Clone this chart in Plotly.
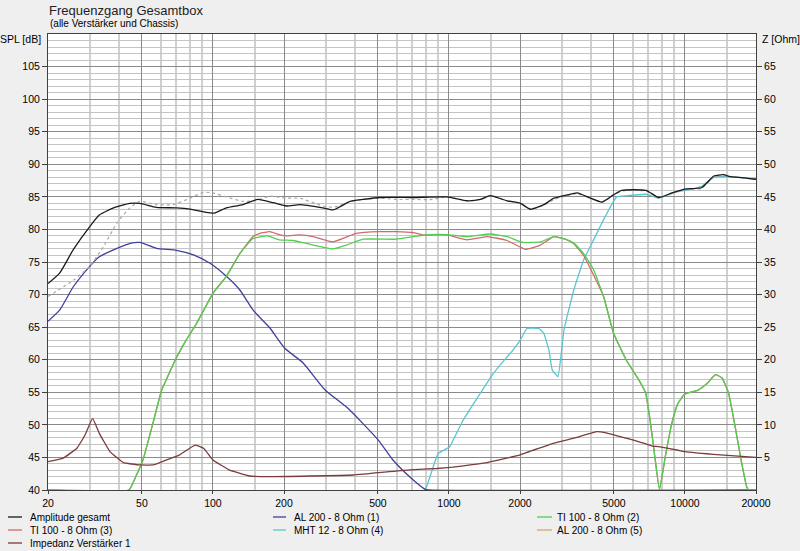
import plotly.graph_objects as go

# ---------------- data ----------------
amp_f = [20, 22.4, 25.6, 30, 33, 37.9, 44.4, 49, 57.6, 70, 80, 91.3, 101, 114, 134, 155, 180, 205, 233,
         292, 323, 346, 381, 433, 508, 706, 980, 1192, 1358, 1497, 1763, 2010, 2215, 2523, 2785, 3168,
         3494, 3975, 4450, 4980, 5390, 6830, 7750, 8790, 9960, 11750, 13250, 14580, 15540, 17000, 20000]
amp_v = [71.7, 73.3, 76.9, 80.4, 82.2, 83.3, 84.0, 84.0, 83.4, 83.3, 83.1, 82.7, 82.5, 83.3, 83.8, 84.6, 84.1, 83.6, 83.8,
         83.3, 83.0, 83.5, 84.3, 84.6, 84.9, 84.9, 85.0, 84.4, 84.6, 85.2, 84.4, 84.0, 83.1, 83.8, 84.8, 85.3,
         85.6, 84.8, 84.2, 85.3, 86.0, 86.0, 84.9, 85.6, 86.2, 86.4, 88.2, 88.4, 88.1, 88.0, 87.7]

ref_f = [20, 25.6, 30, 34.4, 39.2, 44.4, 49, 57.6, 67.8, 80, 91.3, 100, 114, 134, 150, 174, 205, 233,
         292, 323, 346, 381, 433, 508, 600, 706, 850, 980, 1192, 1358, 1497, 1763, 2010, 2215, 2523, 2785,
         3168, 3494, 3975, 4450, 4980, 5390, 6830, 7750, 8790, 9960, 11750, 13250, 14580, 20000]
ref_v = [69.7, 72.2, 74.3, 77.4, 81.0, 83.3, 84.3, 83.8, 83.8, 84.8, 85.7, 85.6, 85.0, 84.3, 84.4, 85.1, 84.8, 84.8,
         83.6, 83.4, 83.7, 84.3, 84.6, 84.8, 84.6, 84.6, 84.6, 85.0, 84.4, 84.6, 85.1, 84.4, 84.0, 83.1, 83.7, 84.6,
         85.2, 85.5, 84.8, 84.2, 85.2, 85.9, 85.9, 84.9, 85.5, 86.1, 86.3, 88.0, 88.2, 87.7]

al1_f = [20, 22.4, 25.6, 30, 33, 39.2, 45, 49, 57.6, 70, 82.7, 97.2, 114, 130, 148, 174, 201, 241, 298,
         374, 501, 579, 683, 794, 820, 20000]
al1_v = [65.9, 67.6, 71.2, 74.3, 75.8, 77.1, 77.9, 78.0, 77.1, 76.8, 76.1, 74.8, 72.8, 70.7, 67.6, 64.9, 61.8, 59.5, 55.4,
         52.5, 47.7, 44.6, 42.0, 40.1, 40.0, 40.0]

ti2_f = [20, 44, 47, 50.5, 55.9, 60.6, 65, 70, 77, 85, 100, 114, 130, 148, 170, 191, 219, 266, 323, 368,
         433, 600, 706, 830, 980, 1192, 1497, 1763, 2060, 2440, 2785, 3168, 3380, 3720, 4100, 4520, 4980,
         5630, 6400, 6800, 7100, 7400, 7800, 8250, 8790, 9340, 9960, 11300, 12440, 13470, 14360, 15300,
         16320, 17400, 18270, 18600, 20000]
ti2_v = [40, 40, 42, 44.6, 50.5, 55.3, 57.8, 60.3, 63.0, 65.5, 70.2, 72.8, 76.3, 78.6, 79.0, 78.4, 78.3, 77.6, 77.0, 77.6,
         78.5, 78.5, 78.9, 79.2, 79.2, 78.9, 79.3, 78.9, 78.0, 78.1, 78.9, 78.4, 77.9, 76.3, 73.8, 69.7, 64.1,
         60.0, 56.8, 55.0, 51.0, 46.0, 40.1, 45.1, 50.2, 53.3, 54.7, 55.3, 56.4, 57.7, 57.2, 54.9,
         49.7, 44.1, 40.5, 40, 40]

ti3_f = [20, 44, 47, 50.5, 55.9, 60.6, 65, 70, 77, 85, 100, 114, 130, 148, 158, 174, 191, 205, 233, 266,
         323, 405, 508, 597, 706, 778, 980, 1192, 1450, 1763, 2110, 2440, 2785, 3168, 3380, 3720, 3975,
         4520, 4980, 5630, 6400, 6800, 7100, 7400, 7800, 8250, 8790, 9340, 9960, 11300, 12440, 13470,
         14360, 15300, 16320, 17400, 18270, 18600, 20000]
ti3_v = [40, 40, 42, 44.6, 50.5, 55.3, 57.8, 60.3, 63.0, 65.5, 70.2, 72.8, 76.3, 78.9, 79.4, 79.65, 79.2, 79.0, 79.15, 78.9,
         78.1, 79.4, 79.65, 79.65, 79.5, 79.15, 79.15, 78.4, 78.9, 78.3, 76.95, 77.6, 78.9, 78.4, 77.8, 76.0, 74.0,
         69.7, 64.1, 60.0, 56.8, 55.0, 51.0, 46.0, 40.1, 45.1, 50.2, 53.3, 54.7, 55.3, 56.4, 57.7,
         57.2, 54.9, 49.7, 44.1, 40.5, 40, 40]

mht_f = [20, 790, 830, 900, 1004, 1149, 1233, 1358, 1542, 1670, 1871, 2004, 2140, 2400, 2523, 2650, 2740,
         2897, 3073, 3380, 3720, 4100, 4595, 5130, 5630, 6830, 7750, 9080, 10650, 11750, 13250, 15540, 20000]
mht_v = [40, 40, 42.0, 45.6, 46.6, 50.75, 52.5, 54.85, 57.9, 59.45, 61.5, 63.0, 64.8, 64.8, 64.05, 61.5, 58.4,
         57.4, 64.6, 70.7, 75.3, 78.4, 82.0, 85.0, 85.15, 85.4, 84.8, 85.7, 86.2, 86.6, 88.0, 88.1, 87.7]

imp_f = [20, 23.2, 26.5, 28.7, 30.9, 33, 36.6, 41.7, 49, 55.9, 63.3, 72.3, 84, 91.3, 100, 117, 143, 174,
         392, 683, 889, 1038, 1233, 1450, 2004, 2785, 3380, 4240, 4595, 5630, 6400, 7260, 7730, 9340, 9960,
         14130, 20000]
imp_z = [4.35, 4.9, 6.4, 8.45, 11.0, 8.7, 5.9, 4.2, 3.85, 3.85, 4.6, 5.4, 6.9, 6.4, 4.6, 3.1, 2.15, 2.05,
         2.3, 3.1, 3.3, 3.5, 3.85, 4.2, 5.4, 7.2, 7.95, 8.95, 8.8, 7.95, 7.4, 6.75, 6.65, 6.1, 5.9,
         5.4, 5.0]

x_ticks = [20, 50, 100, 200, 500, 1000, 2000, 5000, 10000, 20000]
x_minor = [30, 40, 60, 70, 80, 90, 150, 300, 400, 600, 700, 800, 900, 1500,
           3000, 4000, 6000, 7000, 8000, 9000, 15000]
spl_ticks = [40, 45, 50, 55, 60, 65, 70, 75, 80, 85, 90, 95, 100, 105]
z_ticks = [5, 10, 15, 20, 25, 30, 35, 40, 45, 50, 55, 60, 65]

legend_names = ["Amplitude gesamt", "AL 200 - 8 Ohm (1)", "TI 100 - 8 Ohm (2)",
                "TI 100 - 8 Ohm (3)", "MHT 12 - 8 Ohm (4)", "AL 200 - 8 Ohm (5)",
                "Impedanz Verstärker 1"]

# ---------------- styling ----------------
C_AMP = "#1a1a1a"
C_REF = "#a8a8a8"
C_AL1 = "#40409a"
C_TI2 = "#4fd04f"
C_TI3 = "#d06a6a"
C_MHT = "#58c6d2"
C_AL5 = "#d8a66e"
C_IMP = "#7a3c3c"
legend_colors = [C_AMP, C_AL1, C_TI2, C_TI3, C_MHT, C_AL5, C_IMP]

FONT = "Liberation Sans, Arial, sans-serif"
L, R, T, B = 48, 44, 34, 61
W, H = 800, 551
PW, PH = W - L - R, H - T - B

fig = go.Figure()

def add(xs, ys, color, name, width=1.3, dash=None, yaxis="y", smooth=0.5):
    fig.add_trace(go.Scatter(x=xs, y=ys, mode="lines", name=name, yaxis=yaxis,
                             line=dict(color=color, width=width, dash=dash,
                                       shape="spline", smoothing=smooth),
                             showlegend=False, hoverinfo="x+y+name"))

add(imp_f, imp_z, C_IMP, legend_names[6], yaxis="y2", smooth=0.3)
add(mht_f, mht_v, C_MHT, legend_names[4], smooth=0.3)
add(al1_f, al1_v, C_AL1, legend_names[1])
add(ti3_f, ti3_v, C_TI3, legend_names[3], smooth=0.4)
add(ti2_f, ti2_v, C_TI2, legend_names[2], smooth=0.4)
add(ref_f, ref_v, C_REF, "Amplitude (Vergleich)", width=1.2, dash="3px,3px")
add(amp_f, amp_v, C_AMP, legend_names[0])

# ---------------- custom legend (3 columns) ----------------
def px2paper_x(px):
    return (px - L) / PW

def px2paper_y(py):
    return (H - B - py) / PH

legend_pos = [  # (line x0, line x1, text x, y) in pixels
    (8, 22, 28, 517), (273, 286, 292, 517), (537, 552, 555, 517),
    (8, 22, 28, 530), (273, 286, 292, 530), (537, 552, 555, 530),
    (8, 22, 28, 543),
]
shapes = []
annotations = []
for (x0, x1, tx, y), name, col in zip(legend_pos, legend_names, legend_colors):
    shapes.append(dict(type="line", xref="paper", yref="paper",
                       x0=px2paper_x(x0), x1=px2paper_x(x1),
                       y0=px2paper_y(y), y1=px2paper_y(y),
                       line=dict(color=col, width=1.3)))
    annotations.append(dict(text=name, xref="paper", yref="paper",
                            x=px2paper_x(tx), y=px2paper_y(y),
                            xanchor="left", yanchor="middle", showarrow=False,
                            font=dict(family=FONT, size=10, color="#000")))

annotations += [
    dict(text="(alle Verstärker und Chassis)", xref="paper", yref="paper",
         x=px2paper_x(48), y=px2paper_y(23.5), xanchor="left", yanchor="middle",
         showarrow=False, font=dict(family=FONT, size=10, color="#000")),
    dict(text="SPL [dB]", xref="paper", yref="paper",
         x=px2paper_x(43), y=px2paper_y(39), xanchor="right", yanchor="middle",
         showarrow=False, font=dict(family=FONT, size=10.5, color="#000")),
    dict(text="Z [Ohm]", xref="paper", yref="paper",
         x=px2paper_x(760), y=px2paper_y(39), xanchor="left", yanchor="middle",
         showarrow=False, font=dict(family=FONT, size=10.5, color="#000")),
]

fig.update_layout(
    width=W, height=H,
    margin=dict(l=L, r=R, t=T, b=B, pad=0, autoexpand=False),
    paper_bgcolor="#efefef", plot_bgcolor="#ffffff",
    font=dict(family=FONT, size=10.5, color="#000"),
    showlegend=False,
    title=dict(text="Frequenzgang Gesamtbox", x=49 / W, xanchor="left", xref="container",
               y=1 - 10 / H, yanchor="middle", yref="container",
               font=dict(family=FONT, size=13, color="#222")),
    xaxis=dict(type="log", range=[1.30103, 4.30103],
               tickmode="array", tickvals=x_ticks, ticktext=[str(v) for v in x_ticks],
               showgrid=True, gridcolor="#8a8a8a", gridwidth=1,
               minor=dict(tickmode="array", tickvals=x_minor, showgrid=True,
                          gridcolor="#d0d0d0", gridwidth=1.5, ticks=""),
               ticks="outside", ticklen=3, tickcolor="#404040",
               showline=True, mirror=True, linecolor="#404040", linewidth=1,
               zeroline=False, tickfont=dict(size=10.5)),
    yaxis=dict(range=[40, 110], tickmode="array", tickvals=spl_ticks,
               showgrid=True, gridcolor="#8a8a8a", gridwidth=1,
               minor=dict(tickmode="linear", tick0=40, dtick=1, showgrid=True,
                          gridcolor="#c4c4c4", gridwidth=1, ticks=""),
               ticks="outside", ticklen=5, tickcolor="#404040",
               showline=True, mirror=True, linecolor="#404040", linewidth=1,
               zeroline=False, tickfont=dict(size=10.5)),
    yaxis2=dict(range=[0, 70], overlaying="y", side="right", tickmode="array",
                tickvals=z_ticks, showgrid=False, zeroline=False,
                ticks="outside", ticklen=5, tickcolor="#404040",
                showline=True, linecolor="#404040", linewidth=1,
                tickfont=dict(size=10.5)),
    shapes=shapes,
    annotations=annotations,
)

fig.write_html("out.html", config={"displayModeBar": False},
               post_script="document.body.style.margin='0';document.body.style.overflow='hidden';")
